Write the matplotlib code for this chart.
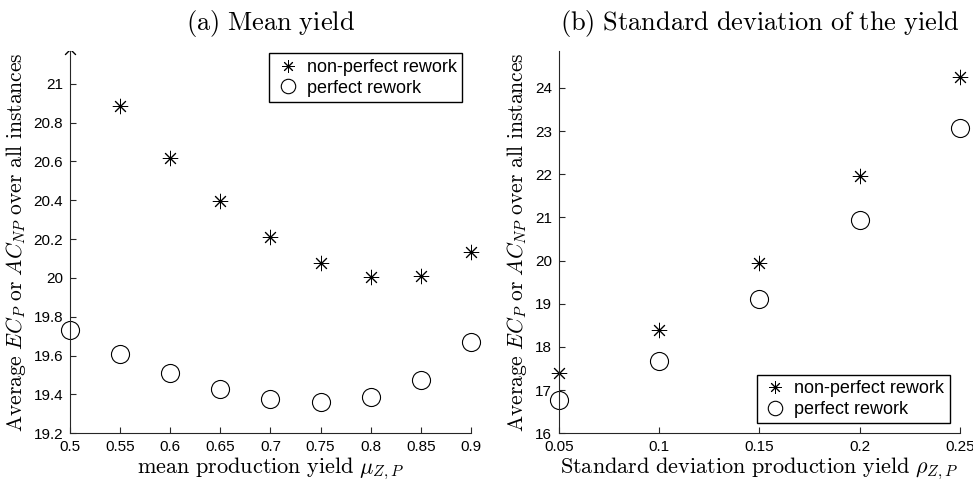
import matplotlib
matplotlib.use("Agg")
from matplotlib import pyplot as plt
from matplotlib.patches import Rectangle

plt.rcParams['mathtext.fontset'] = 'cm'
plt.rcParams['font.family'] = ['Liberation Sans', 'DejaVu Sans']

# (a) mean yield
mu = [0.5, 0.55, 0.6, 0.65, 0.7, 0.75, 0.8, 0.85, 0.9]
mean_nonperfect = [21.18, 20.885, 20.62, 20.395, 20.21, 20.078, 20.003, 20.008, 20.135]
mean_perfect = [19.73, 19.61, 19.51, 19.43, 19.378, 19.36, 19.385, 19.475, 19.67]
mu_ticks = [0.5, 0.55, 0.6, 0.65, 0.7, 0.75, 0.8, 0.85, 0.9]
mean_yticks = [19.2, 19.4, 19.6, 19.8, 20, 20.2, 20.4, 20.6, 20.8, 21]

# (b) standard deviation of the yield
rho = [0.05, 0.1, 0.15, 0.2, 0.25]
sd_nonperfect = [17.4, 18.4, 19.95, 21.95, 24.25]
sd_perfect = [16.77, 17.67, 19.1, 20.93, 23.07]
rho_ticks = [0.05, 0.1, 0.15, 0.2, 0.25]
sd_yticks = [16, 17, 18, 19, 20, 21, 22, 23, 24]

axis_col = '#262626'
ylab = r'$\mathrm{Average}\ EC_P\ \mathrm{or}\ AC_{NP}\ \mathrm{over\ all\ instances}$'
star = (8, 2, 0)

fig = plt.figure(figsize=(9.73, 4.84), dpi=100)
ax1 = fig.add_axes([0.072, 0.105, 0.412, 0.790])
ax2 = fig.add_axes([0.5745, 0.105, 0.412, 0.790])


def style_axes(ax):
    for s in ['top', 'right']:
        ax.spines[s].set_visible(False)
    for s in ['left', 'bottom']:
        ax.spines[s].set_color(axis_col)
        ax.spines[s].set_linewidth(0.8)
    ax.tick_params(direction='in', length=4, width=0.8, colors=axis_col,
                   labelsize=11, labelcolor='black')
    ax.tick_params(axis='x', pad=5)
    ax.tick_params(axis='y', pad=5)


stars1, = ax1.plot(mu, mean_nonperfect, linestyle='none', marker=star, markersize=11,
                   markeredgewidth=0.7, color='black', label='non-perfect rework')
# clip only at the top, like the reference (left-most point is cut off)
stars1.set_clip_path(Rectangle((-0.1, -0.1), 1.2, 1.1, transform=ax1.transAxes))
ax1.plot(mu, mean_perfect, linestyle='none', marker='o', markersize=13,
         markerfacecolor='white', markeredgecolor='black', markeredgewidth=0.8,
         label='perfect rework', clip_on=False)
ax1.set_xlim(0.5, 0.9)
ax1.set_ylim(19.2, 21.17)
ax1.set_xticks(mu_ticks)
ax1.set_xticklabels(['0.5', '0.55', '0.6', '0.65', '0.7', '0.75', '0.8', '0.85', '0.9'])
ax1.set_yticks(mean_yticks)
ax1.set_yticklabels(['19.2', '19.4', '19.6', '19.8', '20', '20.2', '20.4', '20.6', '20.8', '21'])
style_axes(ax1)
ax1.set_title(r'$\mathrm{(a)\ Mean\ yield}$', fontsize=19, pad=15)
ax1.set_xlabel(r'$\mathrm{mean\ production\ yield}\ \mu_{Z,P}$', fontsize=16, labelpad=1)
ax1.set_ylabel(ylab, fontsize=15.5, labelpad=4)
ax1.legend(loc='upper right', bbox_to_anchor=(0.978, 0.993), borderaxespad=0,
           fontsize=13, frameon=True, fancybox=False, edgecolor='black', framealpha=1,
           handletextpad=0.3, borderpad=0.3, labelspacing=0.2, handlelength=1.5,
           markerscale=0.8)

ax2.plot(rho, sd_nonperfect, linestyle='none', marker=star, markersize=11,
         markeredgewidth=0.7, color='black', label='non-perfect rework', clip_on=False)
ax2.plot(rho, sd_perfect, linestyle='none', marker='o', markersize=13,
         markerfacecolor='white', markeredgecolor='black', markeredgewidth=0.8,
         label='perfect rework', clip_on=False)
ax2.set_xlim(0.05, 0.25)
ax2.set_ylim(16, 24.86)
ax2.set_xticks(rho_ticks)
ax2.set_xticklabels(['0.05', '0.1', '0.15', '0.2', '0.25'])
ax2.set_yticks(sd_yticks)
style_axes(ax2)
ax2.set_title(r'$\mathrm{(b)\ Standard\ deviation\ of\ the\ yield}$', fontsize=19, pad=15)
ax2.set_xlabel(r'$\mathrm{Standard\ deviation\ production\ yield}\ \rho_{Z,P}$', fontsize=16, labelpad=1)
ax2.set_ylabel(ylab, fontsize=15.5, labelpad=4)
ax2.legend(loc='lower right', bbox_to_anchor=(0.975, 0.026), borderaxespad=0,
           fontsize=13, frameon=True, fancybox=False, edgecolor='black', framealpha=1,
           handletextpad=0.3, borderpad=0.3, labelspacing=0.2, handlelength=1.5,
           markerscale=0.8)

fig.savefig('out.png', dpi=100)
